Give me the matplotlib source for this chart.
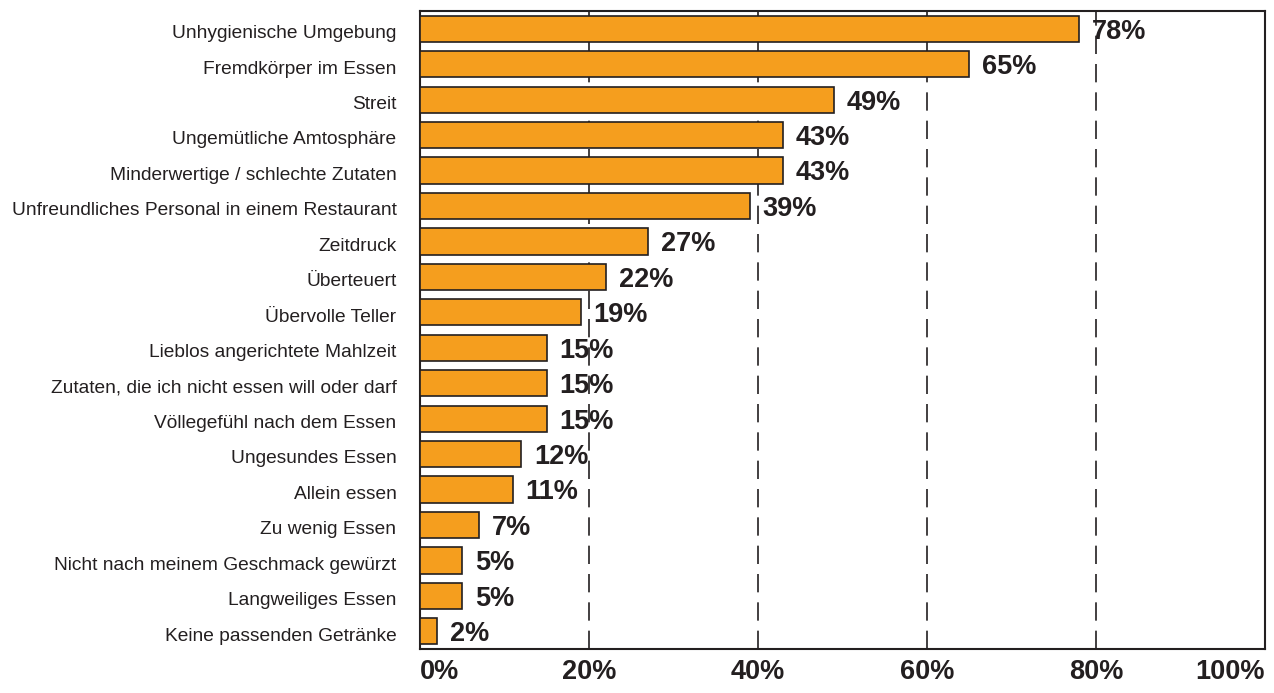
import matplotlib.pyplot as plt
import matplotlib.transforms as mtransforms
import numpy as np

plt.rcParams["font.family"] = ["Liberation Sans", "DejaVu Sans"]

categories = [
    "Unhygienische Umgebung",
    "Fremdkörper im Essen",
    "Streit",
    "Ungemütliche Amtosphäre",
    "Minderwertige / schlechte Zutaten",
    "Unfreundliches Personal in einem Restaurant",
    "Zeitdruck",
    "Überteuert",
    "Übervolle Teller",
    "Lieblos angerichtete Mahlzeit",
    "Zutaten, die ich nicht essen will oder darf",
    "Völlegefühl nach dem Essen",
    "Ungesundes Essen",
    "Allein essen",
    "Zu wenig Essen",
    "Nicht nach meinem Geschmack gewürzt",
    "Langweiliges Essen",
    "Keine passenden Getränke",
]
values = [78, 65, 49, 43, 43, 39, 27, 22, 19, 15, 15, 15, 12, 11, 7, 5, 5, 2]
xticks = [0, 20, 40, 60, 80, 100]
xtick_labels = ["0%", "20%", "40%", "60%", "80%", "100%"]

text_color = "#231F20"
bar_color = "#F59E1E"

fig = plt.figure(figsize=(12.74, 6.93), dpi=100)
ax = fig.add_axes([0.3297, 0.0635, 0.6633, 0.9205])

y = np.arange(len(categories))
bars = ax.barh(y, values, height=0.74, color=bar_color, edgecolor=text_color,
               linewidth=1.2, zorder=3)

ax.set_xlim(0, 100)
ax.set_ylim(len(categories) - 0.5, -0.5)

ax.set_yticks(y)
ax.set_yticklabels(categories, fontsize=13.8, color=text_color)
ax.tick_params(axis="y", length=0, pad=17)
# nudge category labels down a touch
shift = mtransforms.ScaledTranslation(0, -2 / 72, fig.dpi_scale_trans)
for lab in ax.get_yticklabels():
    lab.set_transform(lab.get_transform() + shift)

ax.set_xticks(xticks)
ax.set_xticklabels(xtick_labels, fontsize=19.5, fontweight="bold", color=text_color)
ax.tick_params(axis="x", length=0, pad=7)
labels = ax.get_xticklabels()
labels[0].set_horizontalalignment("left")
labels[-1].set_horizontalalignment("right")

ax.xaxis.grid(True, linestyle=(0, (11, 6)), color=text_color, linewidth=1.2, zorder=1)
ax.set_axisbelow(True)

for s in ax.spines.values():
    s.set_color(text_color)
    s.set_linewidth(1.5)

# value labels to the right of each bar
for bar, val in zip(bars, values):
    ax.text(bar.get_width() + 1.5, bar.get_y() + bar.get_height() / 2 + 0.28, f"{val}%",
            ha="left", va="baseline", fontsize=19.5, fontweight="bold", color=text_color,
            zorder=4)

plt.savefig("out.png", dpi=100)
